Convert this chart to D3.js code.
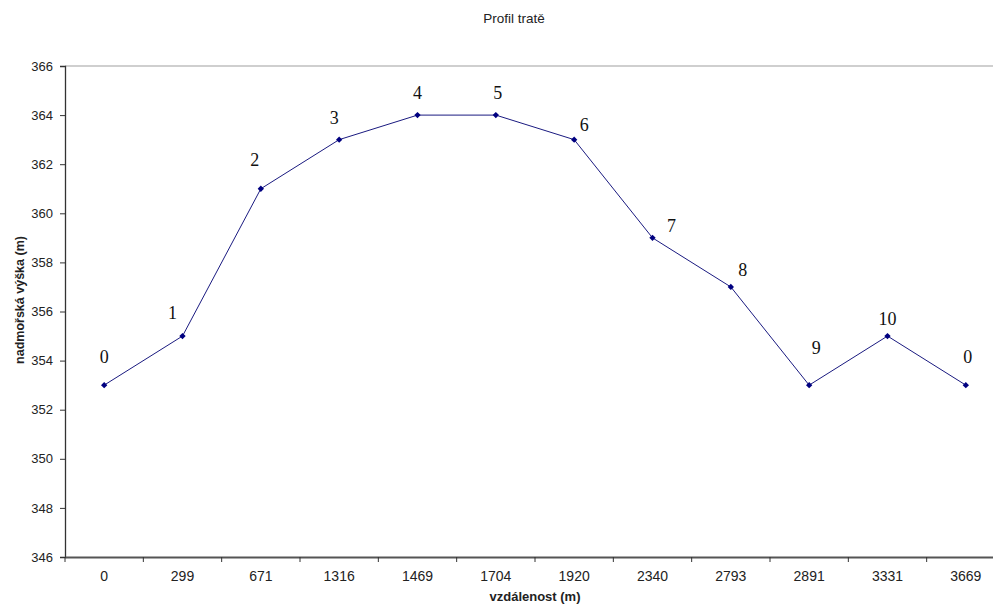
<!DOCTYPE html>
<html>
<head>
<meta charset="utf-8">
<script src="https://cdn.jsdelivr.net/npm/d3@7"></script>
<style>
  body { margin: 0; background: #fff; }
  text { font-family: "Liberation Sans", Arial, sans-serif; }
</style>
</head>
<body>
<svg id="chart" width="993" height="608"></svg>
<script>
// vzdalenost (x categories) and nadmorska vyska
var distances = ["0", "299", "671", "1316", "1469", "1704", "1920", "2340", "2793", "2891", "3331", "3669"];
var heights = [353, 355, 361, 363, 364, 364, 363, 359, 357, 353, 355, 353];
var pointNames = ["0", "1", "2", "3", "4", "5", "6", "7", "8", "9", "10", "0"];
var yTicks = [346, 348, 350, 352, 354, 356, 358, 360, 362, 364, 366];

// hand placed label nudges (px), like the text boxes in the original
var labelDx = [0, -10, -6, -5, 0, 2, 10, 19, 12, 7, 0, 2];
var labelDy = [-28, -23, -29, -22, -22, -22, -15, -12, -17, -37, -17, -28];

var margin = {top: 66, left: 65};
var plotW = 940, plotH = 491;

var svg = d3.select("#chart");

var x = d3.scaleBand()
    .domain(distances)
    .range([0, plotW]);

var y = d3.scaleLinear()
    .domain([346, 366])
    .range([plotH, 0]);

var g = svg.append("g")
    .attr("transform", "translate(" + margin.left + "," + margin.top + ")");

// top border line of plot area
g.append("line")
    .attr("x1", 0).attr("x2", plotW)
    .attr("y1", y(366)).attr("y2", y(366))
    .attr("stroke", "#a0a0a0")
    .attr("stroke-width", 1.2);

// y axis
var yAxis = d3.axisLeft(y)
    .tickValues(yTicks)
    .tickSize(5)
    .tickPadding(7)
    .tickFormat(d3.format("d"));

var yg = g.append("g").call(yAxis);
yg.select(".domain").attr("stroke", "#333").attr("stroke-width", 1.3);
yg.selectAll(".tick line").attr("stroke", "#333");
yg.selectAll("text").attr("font-size", 13).attr("fill", "#222")
    .style("font-family", "Liberation Sans, Arial, sans-serif");

// x axis (labels at category centers)
var xAxis = d3.axisBottom(x)
    .tickSize(0)
    .tickPadding(14);

var xg = g.append("g")
    .attr("transform", "translate(0," + plotH + ")")
    .call(xAxis);
xg.select(".domain").attr("stroke", "#555").attr("stroke-width", 2);
xg.selectAll("text").attr("font-size", 14).attr("fill", "#222")
    .style("font-family", "Liberation Sans, Arial, sans-serif");

// tick marks between categories
xg.selectAll(".bound")
    .data(distances)
    .enter()
    .append("line")
    .attr("class", "bound")
    .attr("x1", function(d){ return x(d); })
    .attr("x2", function(d){ return x(d); })
    .attr("y1", 0)
    .attr("y2", 5)
    .attr("stroke", "#333");

// profile line
var data = distances.map(function(d, i){
    return {dist: d, h: heights[i], name: pointNames[i], dx: labelDx[i], dy: labelDy[i]};
});

var line = d3.line()
    .x(function(d){ return x(d.dist) + x.bandwidth() / 2; })
    .y(function(d){ return y(d.h); });

g.append("path")
    .datum(data)
    .attr("d", line)
    .attr("fill", "none")
    .attr("stroke", "#1a1a80")
    .attr("stroke-width", 1);

// diamond markers: rotated squares
g.selectAll(".pt")
    .data(data)
    .enter()
    .append("path")
    .attr("class", "pt")
    .attr("d", d3.symbol().type(d3.symbolSquare).size(20))
    .attr("transform", function(d){
        return "translate(" + (x(d.dist) + x.bandwidth() / 2) + "," + y(d.h) + ") rotate(45)";
    })
    .attr("fill", "#000080");

g.selectAll(".lbl")
    .data(data)
    .enter()
    .append("text")
    .attr("class", "lbl")
    .attr("x", function(d){ return x(d.dist) + x.bandwidth() / 2 + d.dx; })
    .attr("y", function(d){ return y(d.h) + d.dy; })
    .attr("dy", "0.35em")
    .attr("text-anchor", "middle")
    .style("font-family", "Liberation Serif, Times New Roman, serif")
    .attr("font-size", 18)
    .attr("fill", "#111")
    .text(function(d){ return d.name; });

// titles
svg.append("text")
    .attr("x", 514).attr("y", 23)
    .attr("text-anchor", "middle")
    .attr("font-size", 13.5)
    .attr("fill", "#222")
    .text("Profil tratě");

svg.append("text")
    .attr("x", 535).attr("y", 601)
    .attr("text-anchor", "middle")
    .attr("font-size", 13)
    .attr("font-weight", "bold")
    .attr("fill", "#222")
    .text("vzdálenost (m)");

svg.append("text")
    .attr("transform", "translate(24,300) rotate(-90)")
    .attr("text-anchor", "middle")
    .attr("font-size", 12.5)
    .attr("font-weight", "bold")
    .attr("fill", "#222")
    .text("nadmořská výška (m)");
</script>
</body>
</html>
